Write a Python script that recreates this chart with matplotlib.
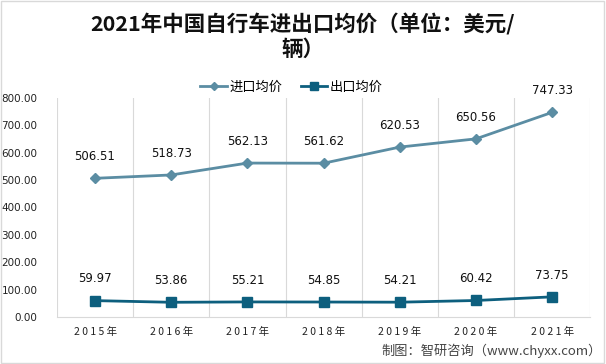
import matplotlib.pyplot as plt
from matplotlib.patches import Rectangle

plt.rcParams["font.family"] = ["Noto Sans CJK SC", "DejaVu Sans"]

years = ["2015年", "2016年", "2017年", "2018年", "2019年", "2020年", "2021年"]
import_price = [506.51, 518.73, 562.13, 561.62, 620.53, 650.56, 747.33]
export_price = [59.97, 53.86, 55.21, 54.85, 54.21, 60.42, 73.75]
y_ticks = [0, 100, 200, 300, 400, 500, 600, 700, 800]

import_color = "#5B8DA3"
export_color = "#0D5F7E"

fig = plt.figure(figsize=(6.06, 3.64), dpi=100)
ax = fig.add_axes([0.094, 0.129, 0.88, 0.602])

x = list(range(len(years)))

ax.plot(x, import_price, color=import_color, linewidth=2,
        marker="D", markersize=5, label="进口均价")
ax.plot(x, export_price, color=export_color, linewidth=2,
        marker="s", markersize=6.5, label="出口均价")

for xi, v in zip(x, import_price):
    ax.annotate(f"{v:.2f}", (xi, v), xytext=(0, 11), textcoords="offset points",
                ha="center", va="bottom", fontsize=8.5, color="#111111",
                family=["DejaVu Sans"])
for xi, v in zip(x, export_price):
    ax.annotate(f"{v:.2f}", (xi, v), xytext=(0, 11), textcoords="offset points",
                ha="center", va="bottom", fontsize=8.5, color="#111111",
                family=["DejaVu Sans"])

ax.set_xlim(-0.5, len(years) - 0.5)
ax.set_ylim(0, 800)
ax.set_yticks(y_ticks)
ax.set_yticklabels([f"{t:.2f}" for t in y_ticks], fontsize=7.5,
                   family=["DejaVu Sans"])
ax.set_xticks(x)
ax.set_xticklabels([" ".join(y[:4]) + " " + y[4] for y in years], fontsize=7.5)

# vertical gridlines at category boundaries
for b in range(len(years) + 1):
    ax.axvline(b - 0.5, color="#d9d9d9", linewidth=0.8, zorder=0)

for side in ["top", "right", "left"]:
    ax.spines[side].set_visible(False)
ax.spines["bottom"].set_color("#d9d9d9")
ax.tick_params(axis="both", length=0, colors="#222222")
ax.tick_params(axis="y", pad=14)
ax.tick_params(axis="x", pad=7)

ax.legend(loc="center", bbox_to_anchor=(0.44, 1.05), ncol=2,
          frameon=False, fontsize=9.5, handlelength=2.0, columnspacing=1.4,
          handletextpad=0.2, markerscale=0.8)

title_kw = dict(ha="center", va="center", fontsize=15.5, fontweight="bold",
                color="#111111")
fig.text(0.5, 0.932, "2021年中国自行车进出口均价（单位：美元/", **title_kw)
fig.text(0.5, 0.865, "辆）", **title_kw)

fig.text(0.993, 0.035, "制图：智研咨询（www.chyxx.com）", ha="right",
         va="center", fontsize=9.5, color="#444444")

fig.patches.append(Rectangle((0.002, 0.003), 0.995, 0.994,
                             transform=fig.transFigure, fill=False,
                             edgecolor="#d9d9d9", linewidth=1))

fig.savefig("out.png", dpi=100)
